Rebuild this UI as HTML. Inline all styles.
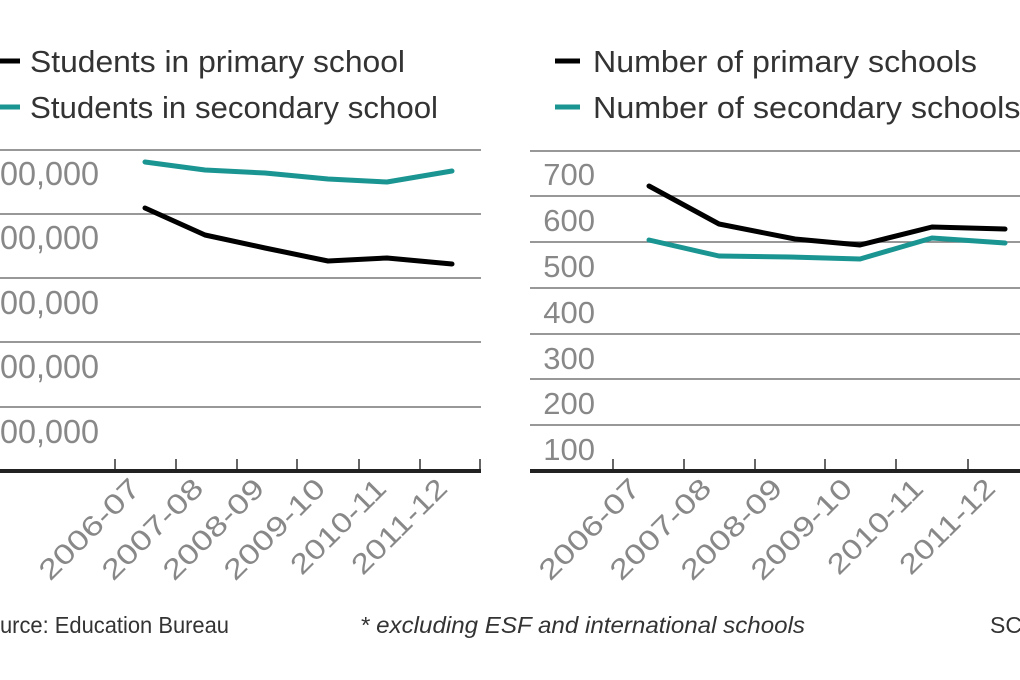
<!DOCTYPE html>
<html><head><meta charset="utf-8"><style>
body{margin:0;background:#fff;}
svg{display:block;}
text{font-family:"Liberation Sans",sans-serif;}
</style></head><body>
<svg width="1020" height="680" viewBox="0 0 1020 680">
<rect width="1020" height="680" fill="#fff"/>
<g font-size="31" fill="#333">
<line x1="0" y1="61" x2="20" y2="61" stroke="#000" stroke-width="5"/>
<text x="30" y="72" textLength="375" lengthAdjust="spacingAndGlyphs">Students in primary school</text>
<line x1="0" y1="107" x2="20" y2="107" stroke="#1a9592" stroke-width="5"/>
<text x="30" y="118" textLength="408" lengthAdjust="spacingAndGlyphs">Students in secondary school</text>
<line x1="555" y1="61" x2="580" y2="61" stroke="#000" stroke-width="5"/>
<text x="593" y="72" textLength="384" lengthAdjust="spacingAndGlyphs">Number of primary schools</text>
<line x1="555" y1="107" x2="580" y2="107" stroke="#1a9592" stroke-width="5"/>
<text x="593" y="118" textLength="440" lengthAdjust="spacingAndGlyphs">Number of secondary schools*</text>
</g>
<g stroke="#777" stroke-width="1.5">
<line x1="0" y1="150" x2="481" y2="150"/><line x1="0" y1="214" x2="481" y2="214"/>
<line x1="0" y1="278" x2="481" y2="278"/><line x1="0" y1="342" x2="481" y2="342"/>
<line x1="0" y1="407" x2="481" y2="407"/>
<line x1="530" y1="151" x2="1020" y2="151"/><line x1="530" y1="196" x2="1020" y2="196"/>
<line x1="530" y1="242" x2="1020" y2="242"/><line x1="530" y1="288" x2="1020" y2="288"/>
<line x1="530" y1="334" x2="1020" y2="334"/><line x1="530" y1="379" x2="1020" y2="379"/>
<line x1="530" y1="425" x2="1020" y2="425"/>
</g>
<g stroke="#333" stroke-width="1.5">
<line x1="115" y1="459" x2="115" y2="471"/><line x1="176" y1="459" x2="176" y2="471"/>
<line x1="237" y1="459" x2="237" y2="471"/><line x1="297" y1="459" x2="297" y2="471"/>
<line x1="359" y1="459" x2="359" y2="471"/><line x1="420" y1="459" x2="420" y2="471"/>
<line x1="480" y1="459" x2="480" y2="471"/>
<line x1="613" y1="459" x2="613" y2="471"/><line x1="684" y1="459" x2="684" y2="471"/>
<line x1="755" y1="459" x2="755" y2="471"/><line x1="825" y1="459" x2="825" y2="471"/>
<line x1="896" y1="459" x2="896" y2="471"/><line x1="968" y1="459" x2="968" y2="471"/>
</g>
<line x1="0" y1="471" x2="481" y2="471" stroke="#222" stroke-width="4"/>
<line x1="530" y1="471" x2="1020" y2="471" stroke="#222" stroke-width="4"/>
<g font-size="33" fill="#888" text-anchor="end">
<text x="99" y="185" textLength="99" lengthAdjust="spacingAndGlyphs">00,000</text>
<text x="99" y="249" textLength="99" lengthAdjust="spacingAndGlyphs">00,000</text>
<text x="99" y="314" textLength="99" lengthAdjust="spacingAndGlyphs">00,000</text>
<text x="99" y="378" textLength="99" lengthAdjust="spacingAndGlyphs">00,000</text>
<text x="99" y="443" textLength="99" lengthAdjust="spacingAndGlyphs">00,000</text>
</g>
<g font-size="31" fill="#888" text-anchor="end">
<text x="595" y="185">700</text><text x="595" y="231">600</text>
<text x="595" y="277">500</text><text x="595" y="323">400</text>
<text x="595" y="369">300</text><text x="595" y="414">200</text>
<text x="595" y="460">100</text>
</g>
<g fill="none" stroke-width="5" stroke-linejoin="round" stroke-linecap="round">
<polyline stroke="#1a9592" points="145,162 205,170 265,173 328,179 387,182 452,171"/>
<polyline stroke="#000" points="145,208 205,235 265,248 328,261 387,258 452,264"/>
<polyline stroke="#1a9592" points="649,240 719,256 790,257 860,259 932,238 1005,243"/>
<polyline stroke="#000" points="649,186 719,224 795,239 860,245 932,227 1005,229"/>
</g>
<g font-size="28" fill="#888" text-anchor="end">
<text transform="translate(142,490) rotate(-45)" textLength="130" lengthAdjust="spacingAndGlyphs">2006-07</text>
<text transform="translate(205,490) rotate(-45)" textLength="130" lengthAdjust="spacingAndGlyphs">2007-08</text>
<text transform="translate(266,490) rotate(-45)" textLength="130" lengthAdjust="spacingAndGlyphs">2008-09</text>
<text transform="translate(327,490) rotate(-45)" textLength="130" lengthAdjust="spacingAndGlyphs">2009-10</text>
<text transform="translate(388,490) rotate(-45)" textLength="122" lengthAdjust="spacingAndGlyphs">2010-11</text>
<text transform="translate(449,490) rotate(-45)" textLength="122" lengthAdjust="spacingAndGlyphs">2011-12</text>
<text transform="translate(642,490) rotate(-45)" textLength="130" lengthAdjust="spacingAndGlyphs">2006-07</text>
<text transform="translate(713,490) rotate(-45)" textLength="130" lengthAdjust="spacingAndGlyphs">2007-08</text>
<text transform="translate(784,490) rotate(-45)" textLength="130" lengthAdjust="spacingAndGlyphs">2008-09</text>
<text transform="translate(854,490) rotate(-45)" textLength="130" lengthAdjust="spacingAndGlyphs">2009-10</text>
<text transform="translate(925,490) rotate(-45)" textLength="122" lengthAdjust="spacingAndGlyphs">2010-11</text>
<text transform="translate(997,490) rotate(-45)" textLength="122" lengthAdjust="spacingAndGlyphs">2011-12</text>
</g>
<g font-size="23" fill="#333">
<text x="0" y="633" textLength="229" lengthAdjust="spacingAndGlyphs">urce: Education Bureau</text>
<text x="360" y="633" font-style="italic" textLength="445" lengthAdjust="spacingAndGlyphs">* excluding ESF and international schools</text>
<text x="990" y="633">SCMP</text>
</g>
</svg>
</body></html>
